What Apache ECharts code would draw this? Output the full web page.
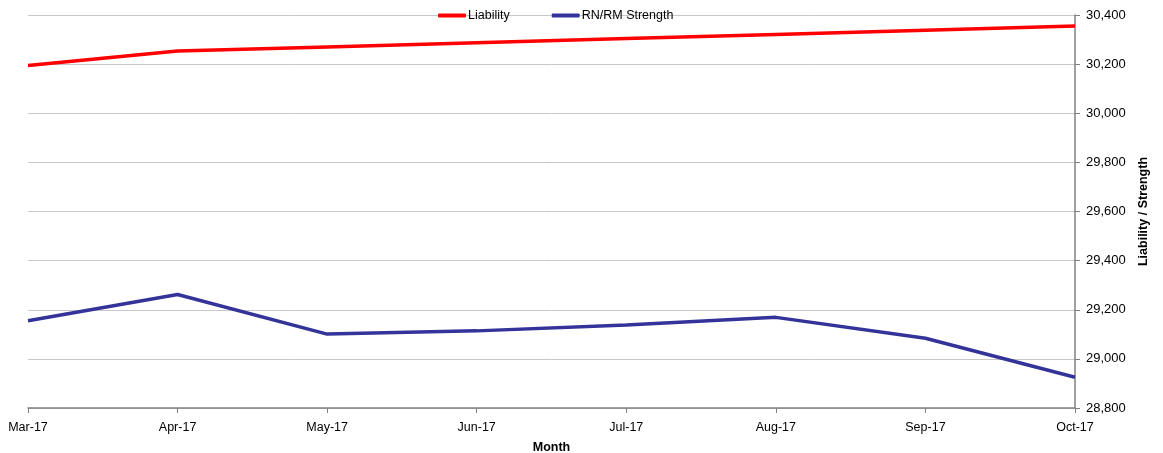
<!DOCTYPE html>
<html>
<head>
<meta charset="utf-8">
<script src="https://cdn.jsdelivr.net/npm/echarts@6/dist/echarts.min.js"></script>
<style>html,body{margin:0;padding:0;background:#fff}#c{width:1163px;height:453px}</style>
</head>
<body>
<div id="c"></div>
<script>
const months = ['Mar-17','Apr-17','May-17','Jun-17','Jul-17','Aug-17','Sep-17','Oct-17'];
const liability = [30194, 30253, 30270, 30287, 30304, 30321, 30338, 30355];
const strength = [29155, 29262, 29101, 29114, 29138, 29169, 29084, 28925];

const chart = echarts.init(document.getElementById('c'));
const font = 'Liberation Sans, Arial, sans-serif';
chart.setOption({
  animation: false,
  textStyle: {fontFamily: font},
  grid: {left: 28, right: 88, top: 15, bottom: 45, outerBoundsMode: 'none', containLabel: false},
  legend: {
    top: 4, left: 433,
    itemWidth: 28, itemHeight: 4, itemGap: 42,
    icon: 'roundRect',
    textStyle: {fontSize: 12.5, color: '#000', fontFamily: font, padding: [0,0,0,-3]},
    data: ['Liability', 'RN/RM Strength']
  },
  xAxis: {
    type: 'category', data: months, boundaryGap: false,
    name: 'Month', nameLocation: 'middle', nameGap: 33,
    nameTextStyle: {fontWeight: 'bold', fontSize: 12.5, color: '#000'},
    axisLine: {lineStyle: {color: '#808080', width: 1.5}},
    axisTick: {show: true, length: 5, lineStyle: {color: '#808080'}},
    axisLabel: {fontSize: 12.5, color: '#000', margin: 13}
  },
  yAxis: {
    type: 'value', position: 'right', min: 28800, max: 30400, interval: 200,
    name: 'Liability / Strength', nameLocation: 'middle', nameGap: 62, nameRotate: 90,
    nameTextStyle: {fontWeight: 'bold', fontSize: 12.5, color: '#000'},
    axisLine: {show: true, lineStyle: {color: '#808080', width: 1.5}},
    axisTick: {show: true, length: 5, lineStyle: {color: '#808080'}},
    axisLabel: {fontSize: 13, color: '#000', margin: 11, formatter: v => v.toLocaleString('en-US')},
    splitLine: {lineStyle: {color: '#c8c8c8', width: 1}}
  },
  series: [
    {name: 'Liability', type: 'line', data: liability, symbol: 'none',
     lineStyle: {color: '#ff0000', width: 3.5}, itemStyle: {color: '#ff0000'}},
    {name: 'RN/RM Strength', type: 'line', data: strength, symbol: 'none',
     lineStyle: {color: '#333399', width: 3.5}, itemStyle: {color: '#333399'}}
  ]
});
</script>
</body>
</html>
